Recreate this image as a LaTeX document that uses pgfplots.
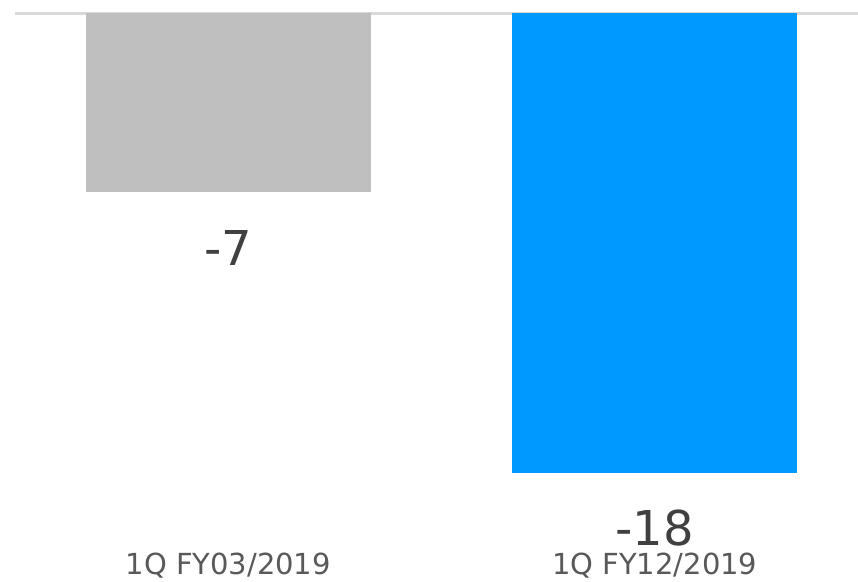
\documentclass[border=0pt]{standalone}
\usepackage{fontspec}
\setmainfont{DejaVu Sans}
\usepackage{pgfplots}
\usepackage{pgfplotstable}
\pgfplotsset{compat=1.18}
\definecolor{bargray}{HTML}{BFBFBF}
\definecolor{barblue}{HTML}{0099FF}
\definecolor{valtext}{HTML}{404040}
\definecolor{cattext}{HTML}{595959}
\definecolor{zeroline}{HTML}{D9D9D9}
\pgfplotstableread{
x y lab
0 -7 -7
}\dataA
\pgfplotstableread{
x y lab
1 -18 -18
}\dataB
\begin{document}
\begin{tikzpicture}
\begin{axis}[
  scale only axis,
  width=842.8pt, height=568.5pt,
  xmin=-0.5, xmax=1.476,
  ymin=-22.29, ymax=0,
  axis line style={draw=none},
  major tick length=0pt,
  ytick=\empty,
  xtick={0,1},
  xticklabels={1Q FY03/2019,1Q FY12/2019},
  xticklabel style={font=\fontsize{29}{34}\selectfont, text=cattext, anchor=base, yshift=7pt},
  extra y ticks={0},
  extra y tick labels={},
  extra y tick style={grid=major, major grid style={draw=zeroline, line width=2.6pt}},
  clip=false,
  ybar,
  bar width=285pt,
  bar shift=0pt,
  point meta=explicit symbolic,
  nodes near coords,
  every node near coord/.append style={font=\fontsize{48}{56}\selectfont, text=valtext, anchor=base, yshift=-73pt},
]
\addplot[fill=bargray, draw=none] table[x=x, y=y, meta=lab] {\dataA};
\addplot[fill=barblue, draw=none] table[x=x, y=y, meta=lab] {\dataB};
\end{axis}
\pgfresetboundingbox
\path[use as bounding box] ([xshift=-15pt,yshift=13.5pt]current axis.north west) rectangle ([xshift=0.2pt]current axis.south east);
\end{tikzpicture}
\end{document}
